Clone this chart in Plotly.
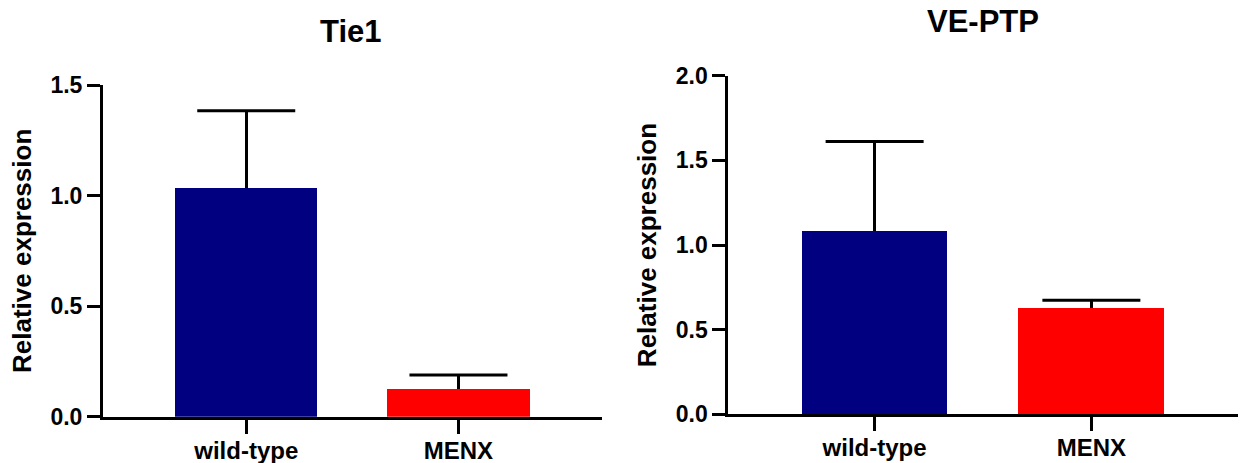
import plotly.graph_objects as go

categories = ["wild-type", "MENX"]
bar_colors = ["#000080", "#FF0000"]

tie1_values = [1.036, 0.124]
tie1_errors = [0.347, 0.065]

veptp_values = [1.085, 0.630]
veptp_errors = [0.527, 0.043]

panel_titles = ["Tie1", "VE-PTP"]
y_title = "Relative expression"
tie1_ticks = [0.0, 0.5, 1.0, 1.5]
veptp_ticks = [0.0, 0.5, 1.0, 1.5, 2.0]

FONT = "Liberation Sans, Arial, sans-serif"

W, H = 1243, 463


def xp(px):
    return px / W


def yp(py):
    return (H - py) / H


fig = go.Figure()

for vals, errs, xa, ya in [(tie1_values, tie1_errors, "x", "y"),
                           (veptp_values, veptp_errors, "x2", "y2")]:
    fig.add_trace(go.Bar(
        x=categories, y=vals, width=0.67,
        marker=dict(color=bar_colors, line=dict(width=0)),
        error_y=dict(type="data", symmetric=False, array=errs,
                     arrayminus=[0] * len(errs), color="black",
                     thickness=3, width=0),
        xaxis=xa, yaxis=ya, showlegend=False, hoverinfo="skip",
    ))
    # caps at the top of the error bars only
    fig.add_trace(go.Scatter(
        x=categories, y=[v + e for v, e in zip(vals, errs)],
        mode="markers",
        marker=dict(symbol="line-ew", size=70, color="black",
                    line=dict(color="black", width=3)),
        xaxis=xa, yaxis=ya, showlegend=False, hoverinfo="skip",
        cliponaxis=False,
    ))

axis_common = dict(showline=True, linecolor="black", linewidth=3,
                   ticks="outside", tickcolor="black", tickwidth=3,
                   showgrid=False, zeroline=False, automargin=False)

ytickfont = dict(family=FONT, size=23, color="black", weight="bold")
xtickfont = dict(family=FONT, size=24, color="black", weight="bold")
titlefont = dict(family=FONT, size=26, color="black", weight="bold")

fig.update_layout(
    width=W, height=H,
    margin=dict(l=0, r=0, t=0, b=0, autoexpand=False),
    plot_bgcolor="white", paper_bgcolor="white",
    bargap=0,
    xaxis=dict(domain=[xp(103), xp(601.7)], range=[-0.675, 1.675],
               ticklen=14, tickfont=xtickfont, ticklabelstandoff=-4,
               anchor="y", **axis_common),
    yaxis=dict(domain=[yp(416.7), yp(85)], range=[0, 1.5],
               tickvals=tie1_ticks, ticktext=[f"{v:.1f}" for v in tie1_ticks],
               ticklen=13, tickfont=ytickfont, anchor="x",
               title=dict(text=y_title, font=titlefont, standoff=12),
               **axis_common),
    xaxis2=dict(domain=[xp(728.3), xp(1237.7)], range=[-0.675, 1.675],
                ticklen=14, tickfont=xtickfont, ticklabelstandoff=-4,
                anchor="y2", **axis_common),
    yaxis2=dict(domain=[yp(414.3), yp(75.7)], range=[0, 2.0],
                tickvals=veptp_ticks, ticktext=[f"{v:.1f}" for v in veptp_ticks],
                ticklen=13, tickfont=ytickfont, anchor="x2",
                title=dict(text=y_title, font=titlefont, standoff=12),
                **axis_common),
)

fig.add_annotation(text=panel_titles[0], xref="paper", yref="paper",
                   x=xp(350.5), y=yp(31.5), xanchor="center",
                   yanchor="middle", showarrow=False,
                   font=dict(family=FONT, size=31, color="black", weight="bold"))
fig.add_annotation(text=panel_titles[1], xref="paper", yref="paper",
                   x=xp(983), y=yp(21.5), xanchor="center",
                   yanchor="middle", showarrow=False,
                   font=dict(family=FONT, size=31, color="black", weight="bold"))

# remove the browser's default body margin so the figure fills the window
fig.write_html("out.html",
               config={"displayModeBar": False},
               post_script="document.body.style.margin='0px';"
                           "document.body.style.overflow='hidden';")
